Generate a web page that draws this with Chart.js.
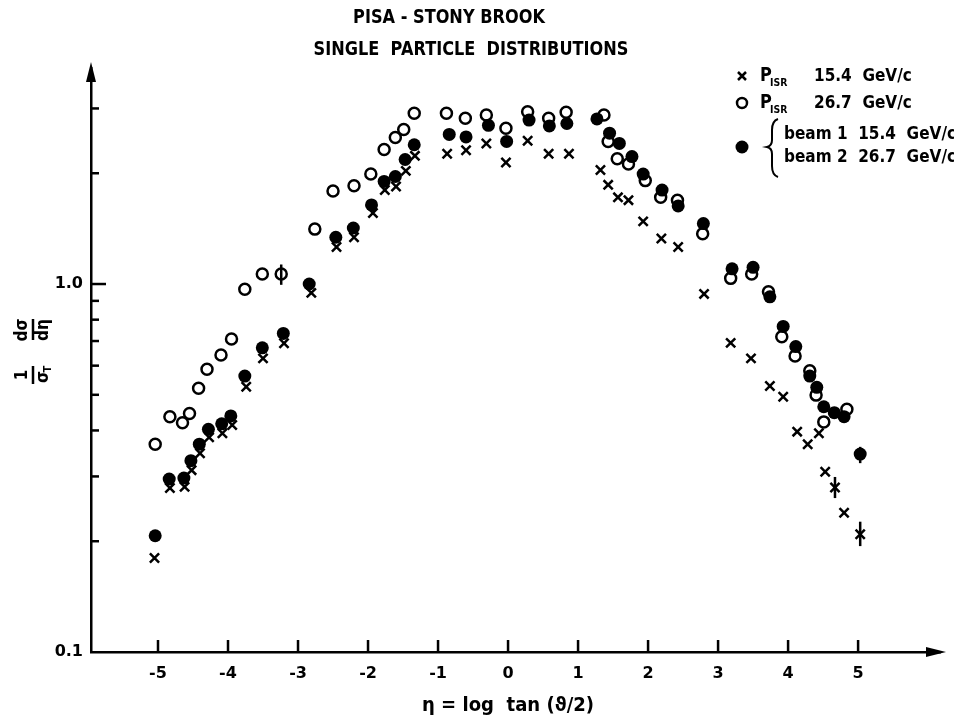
<!DOCTYPE html>
<html>
<head>
<meta charset="utf-8">
<script src="https://cdn.jsdelivr.net/npm/chart.js@4/dist/chart.umd.min.js"></script>
<style>
  body { margin: 0; background: #fff; }
  canvas { display: block; }
</style>
</head>
<body>
<canvas id="chart" width="954" height="719"></canvas>
<script>
// P_ISR 15.4 GeV/c (crosses)
const crossEta = [-5.05, -4.83, -4.62, -4.52, -4.40, -4.27, -4.08, -3.94, -3.74, -3.50, -3.20, -2.81,
  -2.45, -2.20, -1.93, -1.76, -1.60, -1.46, -1.33, -0.87, -0.60, -0.31, -0.03, 0.28, 0.58, 0.87,
  1.32, 1.43, 1.57, 1.72, 1.93, 2.19, 2.43, 2.80, 3.18, 3.47, 3.74, 3.93, 4.13, 4.28, 4.44, 4.53,
  4.67, 4.80, 5.03];
const crossVal = [0.180, 0.279, 0.281, 0.312, 0.347, 0.383, 0.393, 0.414, 0.526, 0.628, 0.690, 0.946,
  1.26, 1.34, 1.56, 1.80, 1.84, 2.03, 2.23, 2.26, 2.31, 2.41, 2.14, 2.45, 2.26, 2.26,
  2.04, 1.86, 1.72, 1.69, 1.48, 1.33, 1.26, 0.940, 0.692, 0.628, 0.528, 0.494, 0.397, 0.367, 0.393, 0.309,
  0.280, 0.239, 0.209];

// P_ISR 26.7 GeV/c (open circles)
const openEta = [-5.04, -4.83, -4.65, -4.55, -4.42, -4.30, -4.10, -3.95, -3.76, -3.51, -3.24, -2.76,
  -2.50, -2.20, -1.96, -1.77, -1.61, -1.49, -1.34, -0.88, -0.61, -0.31, -0.03, 0.28, 0.58, 0.83,
  1.37, 1.43, 1.56, 1.72, 1.96, 2.18, 2.42, 2.78, 3.18, 3.48, 3.72, 3.91, 4.10, 4.31, 4.40, 4.51, 4.84];
const openVal = [0.367, 0.436, 0.420, 0.445, 0.521, 0.587, 0.641, 0.709, 0.968, 1.065, 1.065, 1.41,
  1.79, 1.85, 1.99, 2.32, 2.50, 2.63, 2.91, 2.91, 2.82, 2.88, 2.65, 2.94, 2.82, 2.93,
  2.88, 2.44, 2.19, 2.12, 1.91, 1.72, 1.69, 1.37, 1.036, 1.065, 0.953, 0.719, 0.637, 0.581, 0.499, 0.422, 0.457];

// beam 1 15.4 / beam 2 26.7 GeV/c (filled circles)
const fullEta = [-5.04, -4.84, -4.63, -4.53, -4.41, -4.28, -4.09, -3.96, -3.76, -3.51, -3.21, -2.84,
  -2.46, -2.21, -1.95, -1.77, -1.61, -1.47, -1.34, -0.84, -0.60, -0.28, -0.02, 0.30, 0.59, 0.84,
  1.27, 1.45, 1.59, 1.77, 1.93, 2.20, 2.43, 2.79, 3.20, 3.50, 3.74, 3.93, 4.11, 4.31, 4.41, 4.51,
  4.66, 4.80, 5.03];
const fullVal = [0.207, 0.295, 0.297, 0.331, 0.367, 0.403, 0.417, 0.438, 0.562, 0.671, 0.734, 1.00,
  1.34, 1.42, 1.64, 1.90, 1.96, 2.18, 2.39, 2.55, 2.51, 2.70, 2.44, 2.79, 2.69, 2.73,
  2.81, 2.57, 2.41, 2.22, 1.99, 1.80, 1.63, 1.46, 1.10, 1.11, 0.923, 0.767, 0.676, 0.562, 0.524, 0.464,
  0.447, 0.436, 0.345];

// error bars that stick out of the markers
const errEta = [-3.24, 4.67, 5.03, 5.03];
const errLo = [0.995, 0.262, 0.194, 0.326];
const errHi = [1.13, 0.299, 0.226, 0.361];

const xTickValues = [-5, -4, -3, -2, -1, 0, 1, 2, 3, 4, 5];
const yTickValues = [0.1, 1];
const yMinorTicks = [0.2, 0.3, 0.4, 0.5, 0.6, 0.7, 0.8, 0.9, 2, 3];

const FONT = '"DejaVu Sans", sans-serif';

function points(xs, ys) {
  return xs.map((x, i) => ({ x: x, y: ys[i] }));
}

// narrow lettering: squeeze the text horizontally
function label(ctx, text, x, y, size, align, sx) {
  ctx.save();
  ctx.translate(x, y);
  ctx.scale(sx, 1);
  ctx.font = 'bold ' + size + 'px ' + FONT;
  ctx.textAlign = align;
  ctx.textBaseline = 'middle';
  ctx.fillText(text, 0, 0);
  ctx.restore();
}

const decor = {
  id: 'decor',
  afterDatasetsDraw(chart) {
    const ctx = chart.ctx, xs = chart.scales.x, ys = chart.scales.y;
    ctx.save();
    ctx.strokeStyle = '#000';
    ctx.lineWidth = 2.5;
    for (let i = 0; i < errEta.length; i++) {
      const px = xs.getPixelForValue(errEta[i]);
      ctx.beginPath();
      ctx.moveTo(px, ys.getPixelForValue(errLo[i]));
      ctx.lineTo(px, ys.getPixelForValue(errHi[i]));
      ctx.stroke();
    }
    ctx.restore();
  },
  afterDraw(chart) {
    const ctx = chart.ctx, xs = chart.scales.x, ys = chart.scales.y, a = chart.chartArea;
    ctx.save();
    ctx.strokeStyle = '#000';
    ctx.fillStyle = '#000';
    ctx.lineWidth = 2.5;

    // inward tick marks
    xTickValues.forEach(v => {
      const px = xs.getPixelForValue(v);
      ctx.beginPath();
      ctx.moveTo(px, a.bottom);
      ctx.lineTo(px, a.bottom - 12);
      ctx.stroke();
    });
    yMinorTicks.forEach(v => {
      const py = ys.getPixelForValue(v);
      ctx.beginPath();
      ctx.moveTo(a.left, py);
      ctx.lineTo(a.left + 8, py);
      ctx.stroke();
    });
    const p1 = ys.getPixelForValue(1);
    ctx.beginPath();
    ctx.moveTo(a.left, p1);
    ctx.lineTo(a.left + 15, p1);
    ctx.stroke();

    // arrow heads
    ctx.beginPath();
    ctx.moveTo(a.right + 6, a.bottom);
    ctx.lineTo(a.right - 14, a.bottom - 5);
    ctx.lineTo(a.right - 14, a.bottom + 5);
    ctx.closePath();
    ctx.fill();
    ctx.beginPath();
    ctx.moveTo(a.left, a.top - 6);
    ctx.lineTo(a.left - 5, a.top + 14);
    ctx.lineTo(a.left + 5, a.top + 14);
    ctx.closePath();
    ctx.fill();

    // titles
    label(ctx, 'PISA - STONY BROOK', 449, 18, 19, 'center', 0.85);
    label(ctx, 'SINGLE  PARTICLE  DISTRIBUTIONS', 471, 50, 19, 'center', 0.85);

    // x axis title
    label(ctx, '\u03B7 = log  tan (\u03D1/2)', 508, 706, 19, 'center', 0.95);

    // y axis title (rotated fractions)
    ctx.save();
    ctx.translate(33, 352);
    ctx.rotate(-Math.PI / 2);
    label(ctx, '1', -23, -10, 17, 'center', 0.9);
    label(ctx, '\u03C3', -25, 11, 17, 'center', 0.9);
    label(ctx, 'T', -17, 15, 11, 'center', 0.9);
    label(ctx, 'd\u03C3', 22, -10, 17, 'center', 0.9);
    label(ctx, 'd\u03B7', 22, 11, 17, 'center', 0.9);
    ctx.lineWidth = 2.5;
    ctx.beginPath();
    ctx.moveTo(-32, 0); ctx.lineTo(-14, 0);
    ctx.moveTo(12, 0); ctx.lineTo(33, 0);
    ctx.stroke();
    ctx.restore();

    // legend
    const rows = [
      { y: 76, label: '15.4  GeV/c' },
      { y: 103, label: '26.7  GeV/c' }
    ];
    rows.forEach(r => {
      label(ctx, 'P', 760, r.y, 19, 'left', 0.85);
      label(ctx, 'ISR', 770, r.y + 7, 11, 'left', 0.85);
      label(ctx, r.label, 814, r.y, 18, 'left', 0.85);
    });
    // legend markers
    ctx.lineWidth = 2.5;
    ctx.beginPath();
    ctx.moveTo(738, 72); ctx.lineTo(746, 80);
    ctx.moveTo(746, 72); ctx.lineTo(738, 80);
    ctx.stroke();
    ctx.beginPath();
    ctx.arc(742, 103, 5, 0, Math.PI * 2);
    ctx.stroke();
    ctx.beginPath();
    ctx.arc(742, 147, 6.5, 0, Math.PI * 2);
    ctx.fill();
    // brace
    ctx.lineWidth = 2;
    ctx.beginPath();
    ctx.moveTo(778, 119);
    ctx.quadraticCurveTo(772, 121, 772, 130);
    ctx.lineTo(772, 140);
    ctx.quadraticCurveTo(772, 146, 767, 147);
    ctx.quadraticCurveTo(772, 148, 772, 154);
    ctx.lineTo(772, 166);
    ctx.quadraticCurveTo(772, 175, 778, 177);
    ctx.stroke();
    label(ctx, 'beam 1  15.4  GeV/c', 784, 134, 18, 'left', 0.85);
    label(ctx, 'beam 2  26.7  GeV/c', 784, 157, 18, 'left', 0.85);
    ctx.restore();
  }
};

const config = {
  type: 'scatter',
  data: {
    datasets: [
      {
        label: 'P_ISR 15.4 GeV/c',
        data: points(crossEta, crossVal),
        pointStyle: 'crossRot',
        pointRadius: 6.5,
        borderColor: '#000',
        borderWidth: 2.5
      },
      {
        label: 'beam 1 15.4 GeV/c / beam 2 26.7 GeV/c',
        data: points(fullEta, fullVal),
        pointStyle: 'circle',
        pointRadius: 6.5,
        backgroundColor: '#000',
        borderColor: '#000',
        borderWidth: 0
      },
      {
        label: 'P_ISR 26.7 GeV/c',
        data: points(openEta, openVal),
        pointStyle: 'circle',
        pointRadius: 5.5,
        backgroundColor: '#fff',
        borderColor: '#000',
        borderWidth: 2.5
      }
    ]
  },
  options: {
    responsive: false,
    animation: false,
    layout: { padding: { top: 68, right: 14, left: 0, bottom: 0 } },
    plugins: { legend: { display: false }, tooltip: { enabled: false } },
    scales: {
      x: {
        type: 'linear',
        min: -5.957,
        max: 6.17,
        afterBuildTicks: s => { s.ticks = xTickValues.map(v => ({ value: v })); },
        afterFit: s => { s.height = 67; },
        grid: { display: false, drawTicks: false },
        border: { display: true, color: '#000', width: 2.5 },
        ticks: {
          color: '#000',
          padding: 12,
          font: { family: FONT, size: 16, weight: 'bold' },
          callback: v => String(v)
        }
      },
      y: {
        type: 'logarithmic',
        min: 0.1,
        max: 3.864,
        afterBuildTicks: s => { s.ticks = yTickValues.map(v => ({ value: v })); },
        afterFit: s => { s.width = 91; },
        grid: { display: false, drawTicks: false },
        border: { display: true, color: '#000', width: 2.5 },
        ticks: {
          color: '#000',
          padding: 8,
          font: { family: FONT, size: 16, weight: 'bold' },
          callback: v => (v === 1 ? '1.0' : '0.1')
        }
      }
    }
  },
  plugins: [decor]
};

const myChart = new Chart(document.getElementById('chart'), config);
</script>
</body>
</html>
